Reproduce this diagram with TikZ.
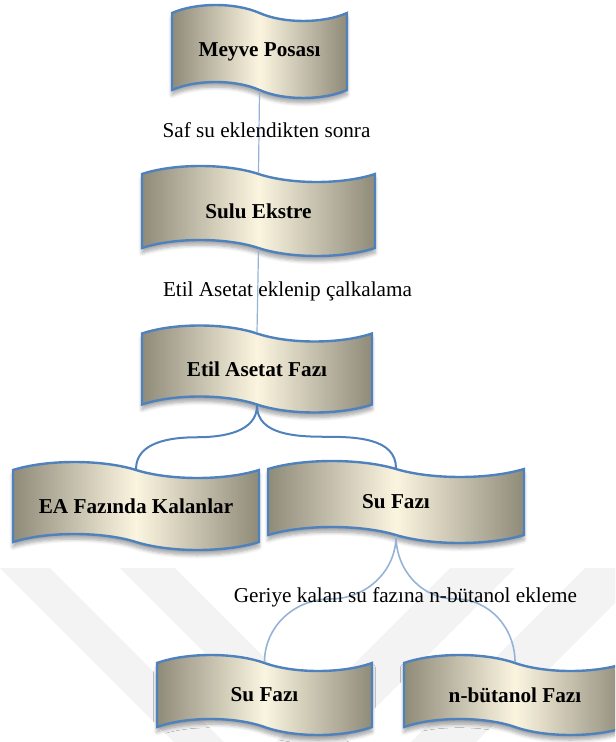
\documentclass[tikz,border=0pt]{standalone}
\usepackage{fontspec}
\setmainfont{Liberation Serif}
\usetikzlibrary{shapes.symbols,shadows.blur,calc}
\definecolor{tapeblue}{HTML}{4F81BD}
\definecolor{lineblue}{HTML}{95B3D7}
\definecolor{tapeedge}{HTML}{8F8B79}
\definecolor{tapemid}{HTML}{FBF5E0}
\definecolor{wmgray}{HTML}{F3F3F3}
\tikzset{
  phase/.style={tape, draw=tapeblue, line width=1.2pt,
    left color=tapeedge, right color=tapeedge, middle color=tapemid,
    tape bend top=out and in, tape bend bottom=out and in, tape bend height=8pt,
    inner sep=0pt, font=\fontsize{10.6pt}{12pt}\selectfont\bfseries,
    blur shadow={shadow xshift=0pt, shadow yshift=-2.5pt, shadow blur steps=6, shadow opacity=35}},
  steplabel/.style={font=\fontsize{10.6pt}{12pt}\selectfont},
  thinline/.style={draw=lineblue, line width=0.6pt},
  midline/.style={draw=tapeblue, line width=1pt},
  lowline/.style={draw=lineblue, line width=0.8pt}
}
\begin{document}
\begin{tikzpicture}[x=0.5pt,y=-0.5pt]
  \clip (0,0) rectangle (615,742);
  %watermark bands
    \fill[wmgray] (0,568) -- (50,568) -- (224,742) -- (174,742) -- cycle;
    \fill[wmgray] (120,568) -- (175,568) -- (349,742) -- (294,742) -- cycle;
    \fill[wmgray] (450,568) -- (515,568) -- (341,742) -- (276,742) -- cycle;
    \fill[wmgray] (585,568) -- (650,568) -- (476,742) -- (411,742) -- cycle;

  %phases
    \node[phase, minimum width=87.5pt, minimum height=46.5pt] (meyve) at (259.5,51.5) {Meyve Posası};
    \node[phase, minimum width=116.5pt, minimum height=45pt] (sulu) at (258.5,211) {Sulu Ekstre};
    \node[phase, minimum width=115pt, minimum height=43.5pt] (etil) at (257,369) {Etil Asetat Fazı};
    \node[phase, minimum width=123pt, minimum height=44pt] (ea) at (136,506) {EA Fazında Kalanlar};
    \node[phase, minimum width=128pt, minimum height=41pt] (su1) at (396,502) {Su Fazı};
    \node[phase, minimum width=107.5pt, minimum height=40pt] (su2) at (264.5,695) {Su Fazı};
    \node[phase, minimum width=111pt, minimum height=40pt] (nbut) at (515,695) {n-bütanol Fazı};

  %connectors
    \draw[thinline] (meyve.south) -- (sulu.north);
    \draw[thinline] (sulu.south) -- (etil.north);
    \draw[midline] (etil.south) to[out=-90,in=0] ($(etil.south)!.5!(ea.north)$) to[out=180,in=90] (ea.north);
    \draw[midline] (etil.south) to[out=-90,in=180] ($(etil.south)!.5!(su1.north)$) to[out=0,in=90] (su1.north);
    \draw[lowline] (su1.south) to[out=-90,in=0] ($(su1.south)!.5!(su2.north)$) to[out=180,in=90] (su2.north);
    \draw[lowline] (su1.south) to[out=-90,in=180] ($(su1.south)!.5!(nbut.north)$) to[out=0,in=90] (nbut.north);

  %step texts
    \node[steplabel] (saf) at (266.5,130) {Saf su eklendikten sonra};
    \node[steplabel] (asetat) at (287.5,291) {Etil Asetat eklenip çalkalama};
    \node[steplabel] (geriye) at (405.5,597) {Geriye kalan su fazına n-bütanol ekleme};
\end{tikzpicture}
\end{document}
